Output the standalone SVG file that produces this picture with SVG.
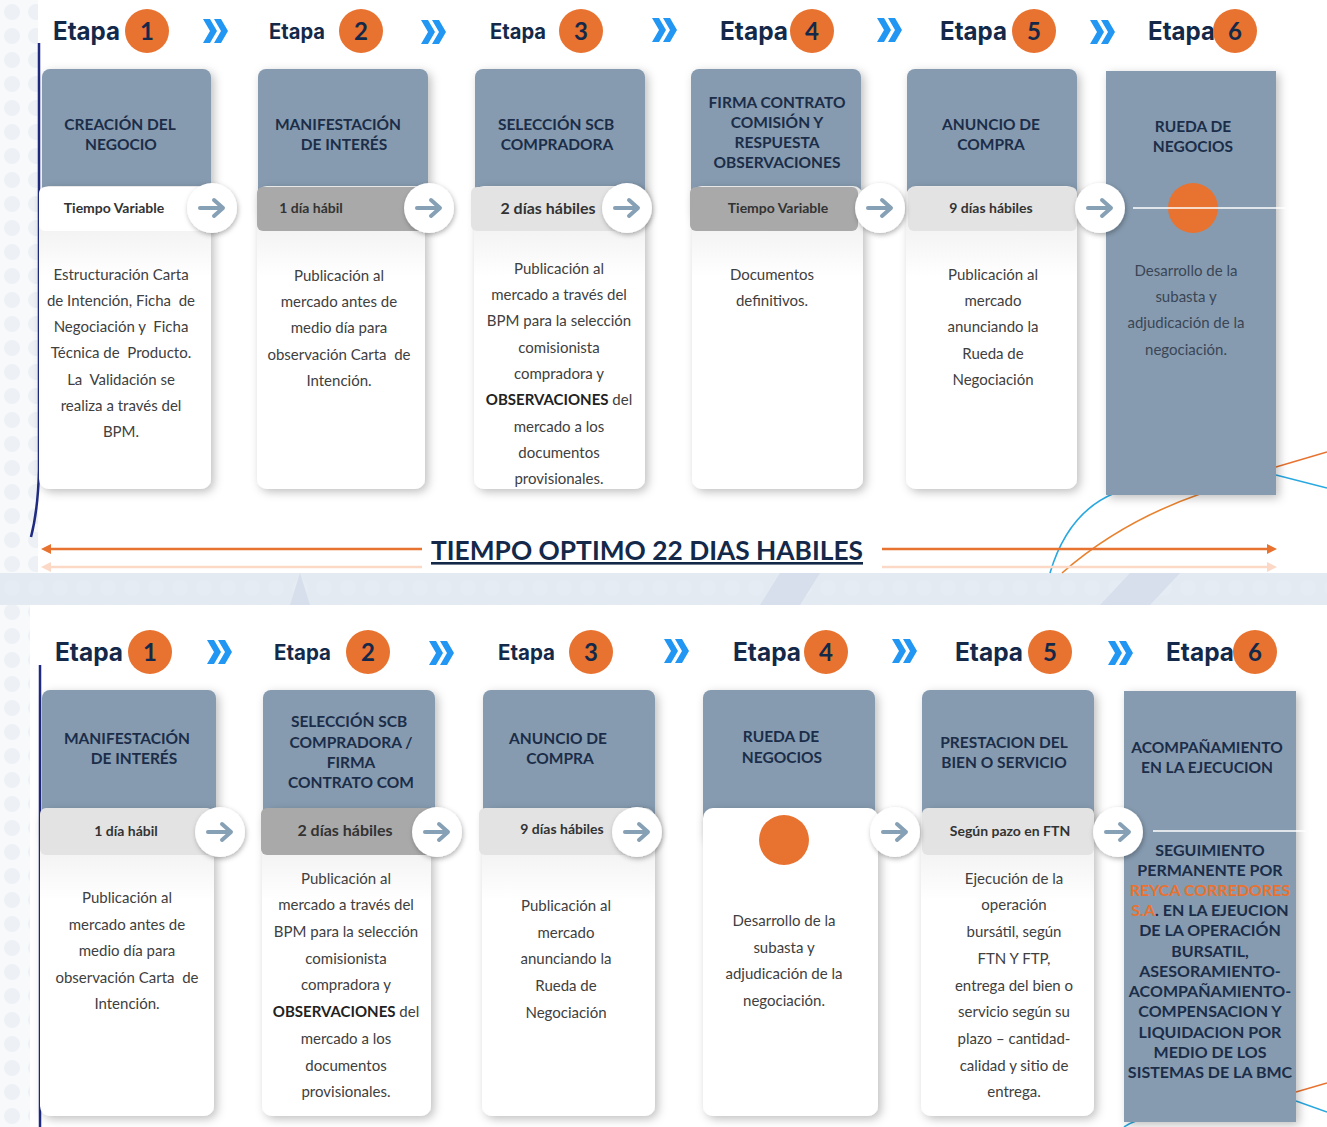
<svg xmlns="http://www.w3.org/2000/svg" width="1327" height="1127" viewBox="0 0 1327 1127">
<defs>
<style>
.etapa{font-family:Inter,Lato,sans-serif;font-weight:700;font-size:25px;fill:#14294a}
.etapa-s{font-family:Inter,Lato,sans-serif;font-weight:700;font-size:21px;fill:#14294a}
.num{font-family:Lato,sans-serif;font-weight:700;font-size:24px;fill:#14294a;text-anchor:middle}
.onum{fill:#e8722f}
.hd{fill:#869bb0}
.ht{font-family:Lato,sans-serif;font-weight:700;font-size:15.5px;fill:#1b2d48;text-anchor:middle}
.bt{font-family:Lato,sans-serif;font-size:15px;fill:#404040;text-anchor:middle;white-space:pre}
.bt6{font-family:Lato,sans-serif;font-size:15px;fill:#3a4656;text-anchor:middle}
.st{font-family:Lato,sans-serif;font-weight:700;font-size:16px;fill:#1b2d48;text-anchor:middle}
.pt{font-family:Lato,sans-serif;font-weight:700;font-size:14px;fill:#333;text-anchor:middle}
.pt2{font-family:Lato,sans-serif;font-weight:700;font-size:16px;fill:#333;text-anchor:middle}
.body{fill:url(#bg);filter:url(#sh)}
.pillw{fill:#ffffff}
.pilld{fill:#a9a9a9}
.pilll{fill:#e3e3e3}
.chev{fill:#2196f3}
</style>
<linearGradient id="bg" x1="0" y1="0" x2="0" y2="1">
<stop offset="0" stop-color="#e8e8e8"/>
<stop offset="0.3" stop-color="#ffffff"/>
<stop offset="1" stop-color="#ffffff"/>
</linearGradient>
<filter id="sh" x="-20%" y="-20%" width="150%" height="150%">
<feDropShadow dx="3" dy="3" stdDeviation="5" flood-color="#000" flood-opacity="0.25"/>
</filter>
<filter id="sh2" x="-40%" y="-40%" width="180%" height="180%">
<feDropShadow dx="1" dy="2" stdDeviation="2.5" flood-color="#000" flood-opacity="0.3"/>
</filter>
<pattern id="dots" width="24" height="24" patternUnits="userSpaceOnUse">
<circle cx="12" cy="12" r="8" fill="#e8edf4"/>
</pattern>
<g id="arr">
<circle r="25" fill="#fff" filter="url(#sh2)"/>
<path d="M-12,0 H9" stroke="#86a0b5" stroke-width="4" stroke-linecap="round"/>
<path d="M2,-8 L11,0 L2,8" fill="none" stroke="#86a0b5" stroke-width="4" stroke-linecap="round" stroke-linejoin="round"/>
</g>
<g id="chev">
<path class="chev" d="M0,0 H7 L14,12 L7,24 H0 L7,12 Z"/>
<path class="chev" d="M11,0 H18 L25,12 L18,24 H11 L18,12 Z"/>
</g>
<marker id="ahL" viewBox="0 0 10 10" refX="1" refY="5" markerWidth="4" markerHeight="4" orient="auto-start-reverse">
<path d="M0,0 L10,5 L0,10 Z" fill="#e8722f"/>
</marker>
<marker id="ahF" viewBox="0 0 10 10" refX="1" refY="5" markerWidth="4" markerHeight="4" orient="auto-start-reverse">
<path d="M0,0 L10,5 L0,10 Z" fill="#fbd9c6"/>
</marker>
</defs>

<!-- background -->
<rect x="0" y="0" width="1327" height="1127" fill="#f7f9fb"/>
<rect x="0" y="0" width="38" height="1127" fill="url(#dots)" opacity="0.7"/>
<rect x="0" y="573" width="1327" height="32" fill="#e4eaf2"/>
<rect x="0" y="573" width="1327" height="32" fill="url(#dots)" opacity="0.6"/>
<path d="M780,573 L760,605 L800,605 L820,573 Z M1130,573 L1100,605 L1150,605 L1180,573 Z M300,573 L290,605 L310,605 Z" fill="#d6dfeb"/>
<rect x="38" y="0" width="1289" height="573" fill="#ffffff"/>
<rect x="30" y="605" width="1297" height="522" fill="#ffffff"/>

<!-- decorative arcs -->
<g fill="none" stroke-width="1.6">
<path d="M1050,573 Q1068,512 1115,493" stroke="#29a8e0"/>
<path d="M1062,573 Q1120,522 1200,494 L1276,467" stroke="#e8822f"/>
<path d="M1276,467 L1327,452" stroke="#e8722f"/>
<path d="M1276,475 L1327,488" stroke="#29a8e0"/>
<path d="M1296,1092 L1327,1083" stroke="#e8722f"/>
<path d="M1296,1101 L1327,1112" stroke="#29a8e0"/>
<path d="M1124,1127 Q1130,1123 1136,1121" stroke="#29a8e0"/>
</g>

<!-- left border lines -->
<path d="M39,43 L39,470 Q38,510 31,537" fill="none" stroke="#1f2a80" stroke-width="2.5"/>
<path d="M40,665 L40,1127" fill="none" stroke="#1f2a80" stroke-width="2.5"/>

<!-- TOP ROW headers -->
<g id="top-etapa-1"><text class="etapa" x="53" y="40" textLength="67" lengthAdjust="spacingAndGlyphs">Etapa</text><circle class="onum" cx="147" cy="31" r="22"/><text class="num" x="147" y="40">1</text></g>
<g id="top-etapa-2"><text class="etapa-s" x="269" y="39" textLength="56" lengthAdjust="spacingAndGlyphs">Etapa</text><circle class="onum" cx="361" cy="31" r="22"/><text class="num" x="361" y="40">2</text></g>
<g id="top-etapa-3"><text class="etapa-s" x="490" y="39" textLength="56" lengthAdjust="spacingAndGlyphs">Etapa</text><circle class="onum" cx="581" cy="31" r="22"/><text class="num" x="581" y="40">3</text></g>
<g id="top-etapa-4"><text class="etapa" x="720" y="40" textLength="68" lengthAdjust="spacingAndGlyphs">Etapa</text><circle class="onum" cx="812" cy="31" r="22"/><text class="num" x="812" y="40">4</text></g>
<g id="top-etapa-5"><text class="etapa" x="940" y="40" textLength="67" lengthAdjust="spacingAndGlyphs">Etapa</text><circle class="onum" cx="1034" cy="31" r="22"/><text class="num" x="1034" y="40">5</text></g>
<g id="top-etapa-6"><text class="etapa" x="1148" y="40" textLength="67" lengthAdjust="spacingAndGlyphs">Etapa</text><circle class="onum" cx="1235" cy="31" r="22"/><text class="num" x="1235" y="40">6</text></g>

<!-- TOP ROW cards -->
<g id="top-card-1">
<rect class="hd" x="42" y="69" width="169" height="150" rx="8" filter="url(#sh)"/>
<text class="ht" x="120" y="130">CREACIÓN DEL</text>
<text class="ht" x="121" y="150">NEGOCIO</text>
<rect class="body" x="39" y="186" width="172" height="303" rx="10"/>
<rect class="pillw" x="39" y="187" width="172" height="44" rx="6"/>
<text class="pt" x="114" y="213">Tiempo Variable</text>
<text class="bt"><tspan x="121" y="280">Estructuración Carta</tspan><tspan x="121" y="306">de Intención, Ficha  de</tspan><tspan x="121" y="332">Negociación y  Ficha</tspan><tspan x="121" y="358">Técnica de  Producto.</tspan><tspan x="121" y="385">La  Validación se</tspan><tspan x="121" y="411">realiza a través del</tspan><tspan x="121" y="437">BPM.</tspan></text>
</g>
<g id="top-card-2">
<rect class="hd" x="258" y="69" width="170" height="150" rx="8" filter="url(#sh)"/>
<text class="ht" x="338" y="130">MANIFESTACIÓN</text>
<text class="ht" x="344" y="150">DE INTERÉS</text>
<rect class="body" x="257" y="186" width="168" height="303" rx="10"/>
<rect class="pilld" x="257" y="187" width="170" height="44" rx="6"/>
<text class="pt" x="311" y="213">1 día hábil</text>
<text class="bt"><tspan x="339" y="281">Publicación al</tspan><tspan x="339" y="307">mercado antes de</tspan><tspan x="339" y="333">medio día para</tspan><tspan x="339" y="360">observación Carta  de</tspan><tspan x="339" y="386">Intención.</tspan></text>
</g>
<g id="top-card-3">
<rect class="hd" x="475" y="69" width="170" height="150" rx="8" filter="url(#sh)"/>
<text class="ht" x="556" y="130">SELECCIÓN SCB</text>
<text class="ht" x="557" y="150">COMPRADORA</text>
<rect class="body" x="474" y="186" width="171" height="303" rx="10"/>
<rect class="pilll" x="471" y="187" width="160" height="44" rx="6"/>
<text class="pt2" x="548" y="214">2 días hábiles</text>
<text class="bt"><tspan x="559" y="274">Publicación al</tspan><tspan x="559" y="300">mercado a través del</tspan><tspan x="559" y="326">BPM para la selección</tspan><tspan x="559" y="353">comisionista</tspan><tspan x="559" y="379">compradora y</tspan><tspan x="559" y="405"><tspan font-weight="700" fill="#222">OBSERVACIONES</tspan> del</tspan><tspan x="559" y="432">mercado a los</tspan><tspan x="559" y="458">documentos</tspan><tspan x="559" y="484">provisionales.</tspan></text>
</g>
<g id="top-card-4">
<rect class="hd" x="691" y="69" width="170" height="150" rx="8" filter="url(#sh)"/>
<text class="ht" x="777" y="108">FIRMA CONTRATO</text>
<text class="ht" x="777" y="128">COMISIÓN Y</text>
<text class="ht" x="777" y="148">RESPUESTA</text>
<text class="ht" x="777" y="168">OBSERVACIONES</text>
<rect class="body" x="692" y="186" width="171" height="303" rx="10"/>
<rect class="pilld" x="690" y="187" width="168" height="44" rx="6"/>
<text class="pt" x="778" y="213">Tiempo Variable</text>
<text class="bt"><tspan x="772" y="280">Documentos</tspan><tspan x="772" y="306">definitivos.</tspan></text>
</g>
<g id="top-card-5">
<rect class="hd" x="907" y="69" width="170" height="150" rx="8" filter="url(#sh)"/>
<text class="ht" x="991" y="130">ANUNCIO DE</text>
<text class="ht" x="991" y="150">COMPRA</text>
<rect class="body" x="906" y="186" width="171" height="303" rx="10"/>
<rect class="pilll" x="908" y="187" width="169" height="44" rx="6"/>
<text class="pt" x="991" y="213">9 días hábiles</text>
<text class="bt"><tspan x="993" y="280">Publicación al</tspan><tspan x="993" y="306">mercado</tspan><tspan x="993" y="332">anunciando la</tspan><tspan x="993" y="359">Rueda de</tspan><tspan x="993" y="385">Negociación</tspan></text>
</g>
<g id="top-card-6">
<rect class="hd" x="1106" y="71" width="170" height="424" filter="url(#sh)"/>
<text class="ht" x="1193" y="132">RUEDA DE</text>
<text class="ht" x="1193" y="152">NEGOCIOS</text>
<circle class="onum" cx="1193" cy="208" r="25"/>
<line x1="1133" y1="208" x2="1286" y2="208" stroke="#ffffff" stroke-width="1.5"/>
<text class="bt6"><tspan x="1186" y="276">Desarrollo de la</tspan><tspan x="1186" y="302">subasta y</tspan><tspan x="1186" y="328">adjudicación de la</tspan><tspan x="1186" y="355">negociación.</tspan></text>
</g>

<!-- timeline -->
<g id="timeline">
<line x1="50" y1="549" x2="422" y2="549" stroke="#e8722f" stroke-width="2.5" marker-start="url(#ahL)"/>
<line x1="882" y1="549" x2="1268" y2="549" stroke="#e8722f" stroke-width="2.5" marker-end="url(#ahL)"/>
<line x1="50" y1="567" x2="422" y2="567" stroke="#fbd9c6" stroke-width="2.5" marker-start="url(#ahF)"/>
<line x1="882" y1="567" x2="1268" y2="567" stroke="#fbd9c6" stroke-width="2.5" marker-end="url(#ahF)"/>
<text x="647" y="560" text-anchor="middle" textLength="432" lengthAdjust="spacingAndGlyphs" font-family="Lato, sans-serif" font-weight="700" font-size="26" fill="#14294a" text-decoration="underline">TIEMPO OPTIMO 22 DIAS HABILES</text>
</g>

<!-- BOTTOM ROW headers -->
<g id="bot-etapa-1"><text class="etapa" x="55" y="661" textLength="68" lengthAdjust="spacingAndGlyphs">Etapa</text><circle class="onum" cx="150" cy="652" r="22"/><text class="num" x="150" y="661">1</text></g>
<g id="bot-etapa-2"><text class="etapa-s" x="274" y="660" textLength="57" lengthAdjust="spacingAndGlyphs">Etapa</text><circle class="onum" cx="368" cy="652" r="22"/><text class="num" x="368" y="661">2</text></g>
<g id="bot-etapa-3"><text class="etapa-s" x="498" y="660" textLength="57" lengthAdjust="spacingAndGlyphs">Etapa</text><circle class="onum" cx="591" cy="652" r="22"/><text class="num" x="591" y="661">3</text></g>
<g id="bot-etapa-4"><text class="etapa" x="733" y="661" textLength="68" lengthAdjust="spacingAndGlyphs">Etapa</text><circle class="onum" cx="826" cy="652" r="22"/><text class="num" x="826" y="661">4</text></g>
<g id="bot-etapa-5"><text class="etapa" x="955" y="661" textLength="68" lengthAdjust="spacingAndGlyphs">Etapa</text><circle class="onum" cx="1050" cy="652" r="22"/><text class="num" x="1050" y="661">5</text></g>
<g id="bot-etapa-6"><text class="etapa" x="1166" y="661" textLength="68" lengthAdjust="spacingAndGlyphs">Etapa</text><circle class="onum" cx="1255" cy="652" r="22"/><text class="num" x="1255" y="661">6</text></g>

<!-- BOTTOM ROW cards -->
<g id="bot-card-1">
<rect class="hd" x="42" y="690" width="174" height="150" rx="8" filter="url(#sh)"/>
<text class="ht" x="127" y="744">MANIFESTACIÓN</text>
<text class="ht" x="134" y="764">DE INTERÉS</text>
<rect class="body" x="40" y="808" width="174" height="308" rx="10"/>
<rect class="pilll" x="40" y="808" width="173" height="47" rx="6"/>
<text class="pt" x="126" y="836">1 día hábil</text>
<text class="bt"><tspan x="127" y="903">Publicación al</tspan><tspan x="127" y="930">mercado antes de</tspan><tspan x="127" y="956">medio día para</tspan><tspan x="127" y="983">observación Carta  de</tspan><tspan x="127" y="1009">Intención.</tspan></text>
</g>
<g id="bot-card-2">
<rect class="hd" x="263" y="690" width="172" height="150" rx="8" filter="url(#sh)"/>
<text class="ht" x="349" y="727">SELECCIÓN SCB</text>
<text class="ht" x="351" y="748">COMPRADORA /</text>
<text class="ht" x="351" y="768">FIRMA</text>
<text class="ht" x="351" y="788">CONTRATO COM</text>
<rect class="body" x="262" y="808" width="169" height="308" rx="10"/>
<rect class="pilld" x="261" y="808" width="172" height="47" rx="6"/>
<text class="pt2" x="345" y="836">2 días hábiles</text>
<text class="bt"><tspan x="346" y="884">Publicación al</tspan><tspan x="346" y="910">mercado a través del</tspan><tspan x="346" y="937">BPM para la selección</tspan><tspan x="346" y="964">comisionista</tspan><tspan x="346" y="990">compradora y</tspan><tspan x="346" y="1017"><tspan font-weight="700" fill="#222">OBSERVACIONES</tspan> del</tspan><tspan x="346" y="1044">mercado a los</tspan><tspan x="346" y="1071">documentos</tspan><tspan x="346" y="1097">provisionales.</tspan></text>
</g>
<g id="bot-card-3">
<rect class="hd" x="483" y="690" width="172" height="150" rx="8" filter="url(#sh)"/>
<text class="ht" x="558" y="744">ANUNCIO DE</text>
<text class="ht" x="560" y="764">COMPRA</text>
<rect class="body" x="482" y="808" width="173" height="308" rx="10"/>
<rect class="pilll" x="479" y="808" width="165" height="47" rx="6"/>
<text class="pt" x="562" y="834">9 días hábiles</text>
<text class="bt"><tspan x="566" y="911">Publicación al</tspan><tspan x="566" y="938">mercado</tspan><tspan x="566" y="964">anunciando la</tspan><tspan x="566" y="991">Rueda de</tspan><tspan x="566" y="1018">Negociación</tspan></text>
</g>
<g id="bot-card-4">
<rect class="hd" x="703" y="690" width="172" height="150" rx="8" filter="url(#sh)"/>
<text class="ht" x="781" y="742">RUEDA DE</text>
<text class="ht" x="782" y="763">NEGOCIOS</text>
<rect x="703" y="808" width="175" height="308" rx="10" fill="#ffffff" filter="url(#sh)"/>
<circle class="onum" cx="784" cy="840" r="25"/>
<text class="bt"><tspan x="784" y="926">Desarrollo de la</tspan><tspan x="784" y="953">subasta y</tspan><tspan x="784" y="979">adjudicación de la</tspan><tspan x="784" y="1006">negociación.</tspan></text>
</g>
<g id="bot-card-5">
<rect class="hd" x="922" y="690" width="172" height="150" rx="8" filter="url(#sh)"/>
<text class="ht" x="1004" y="748">PRESTACION DEL</text>
<text class="ht" x="1004" y="768">BIEN O SERVICIO</text>
<rect class="body" x="921" y="808" width="173" height="308" rx="10"/>
<rect class="pilll" x="922" y="808" width="172" height="47" rx="6"/>
<text class="pt" x="1010" y="836">Según pazo en FTN</text>
<text class="bt"><tspan x="1014" y="884">Ejecución de la</tspan><tspan x="1014" y="910">operación</tspan><tspan x="1014" y="937">bursátil, según</tspan><tspan x="1014" y="964">FTN Y FTP,</tspan><tspan x="1014" y="991">entrega del bien o</tspan><tspan x="1014" y="1017">servicio según su</tspan><tspan x="1014" y="1044">plazo – cantidad-</tspan><tspan x="1014" y="1071">calidad y sitio de</tspan><tspan x="1014" y="1097">entrega.</tspan></text>
</g>
<g id="bot-card-6">
<rect class="hd" x="1124" y="691" width="172" height="431" filter="url(#sh)"/>
<text class="ht" x="1207" y="753">ACOMPAÑAMIENTO</text>
<text class="ht" x="1207" y="773">EN LA EJECUCION</text>
<line x1="1153" y1="831" x2="1306" y2="831" stroke="#ffffff" stroke-width="1.5"/>
<text class="st"><tspan x="1210" y="856">SEGUIMIENTO</tspan><tspan x="1210" y="876">PERMANENTE POR</tspan><tspan x="1210" y="896" fill="#e8722f">REYCA CORREDORES</tspan><tspan x="1210" y="916"><tspan fill="#e8722f">S.A</tspan>. EN LA EJEUCION</tspan><tspan x="1210" y="936">DE LA OPERACIÓN</tspan><tspan x="1210" y="957">BURSATIL,</tspan><tspan x="1210" y="977">ASESORAMIENTO-</tspan><tspan x="1210" y="997">ACOMPAÑAMIENTO-</tspan><tspan x="1210" y="1017">COMPENSACION Y</tspan><tspan x="1210" y="1038">LIQUIDACION POR</tspan><tspan x="1210" y="1058">MEDIO DE LOS</tspan><tspan x="1210" y="1078">SISTEMAS DE LA BMC</tspan></text>
</g>

<!-- connectors -->
<g id="connectors">
<use href="#chev" x="203" y="19"/>
<use href="#chev" x="421" y="20"/>
<use href="#chev" x="652" y="18"/>
<use href="#chev" x="877" y="18"/>
<use href="#chev" x="1090" y="20"/>
<use href="#chev" x="207" y="640"/>
<use href="#chev" x="429" y="641"/>
<use href="#chev" x="664" y="639"/>
<use href="#chev" x="892" y="639"/>
<use href="#chev" x="1108" y="641"/>
<use href="#arr" x="212" y="208"/>
<use href="#arr" x="429" y="208"/>
<use href="#arr" x="627" y="208"/>
<use href="#arr" x="880" y="208"/>
<use href="#arr" x="1100" y="208"/>
<use href="#arr" x="220" y="832"/>
<use href="#arr" x="437" y="832"/>
<use href="#arr" x="637" y="832"/>
<use href="#arr" x="895" y="832"/>
<use href="#arr" x="1118" y="832"/>
</g>
</svg>
